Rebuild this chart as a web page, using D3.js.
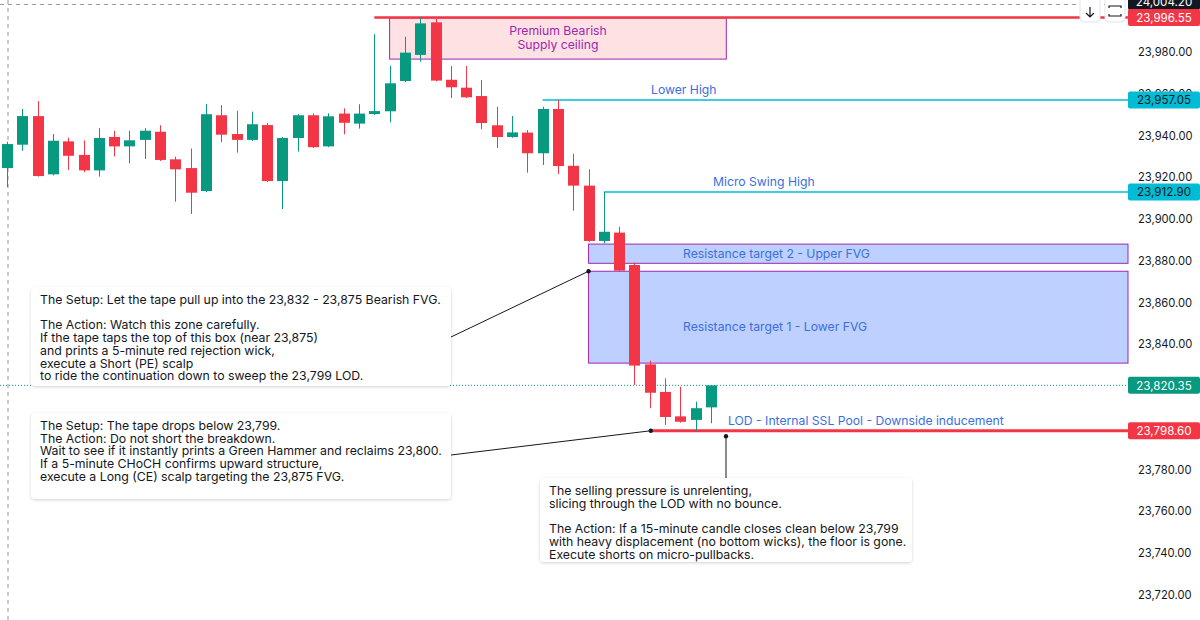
<!DOCTYPE html>
<html><head><meta charset="utf-8">
<script src="https://cdn.jsdelivr.net/npm/d3@7"></script>
<style>
html,body{margin:0;padding:0;background:#fff;}
svg{display:block;font-family:Inter,"Noto Sans",sans-serif;}
</style></head>
<body><svg id="c" width="1200" height="620"></svg>
<script>
// ---------- data ----------
const opens  = [23924.4,23935.6,23949.3,23921.4,23937.2,23930.7,23923.3,23939.3,23934.8,23937.9,23941.8,23928.6,23924.4,23913.4,23949.7,23940.7,23937.9,23945.0,23918.2,23938.8,23949.7,23934.8,23950.5,23945.7,23950.3,23951.6,23966.1,23978.6,23994.2,23966.7,23962.9,23958.9,23944.9,23939.3,23941.4,23931.5,23952.7,23925.5,23916.0,23889.5,23893.5,23878.0,23830.4,23817.2,23805.5,23803.8,23809.8];
const highs  = [23937.0,23952.7,23956.5,23940.7,23939.0,23937.7,23943.5,23942.2,23942.3,23943.5,23944.9,23929.9,23933.8,23955.0,23954.5,23951.9,23951.4,23946.0,23939.2,23950.2,23950.6,23950.6,23953.0,23955.0,23988.5,23973.4,23987.3,23996.55,23995.8,23973.3,23973.3,23966.6,23953.8,23949.3,23942.6,23953.8,23957.05,23931.2,23923.8,23912.9,23896.3,23879.1,23832.2,23823.7,23819.7,23812.5,23820.35];
const lows   = [23915.3,23932.7,23920.3,23920.9,23923.5,23922.4,23920.3,23930.0,23926.7,23928.8,23927.8,23908.3,23902.4,23912.9,23936.8,23931.8,23937.4,23917.8,23904.8,23932.3,23934.0,23934.4,23940.6,23943.3,23949.8,23946.3,23965.6,23975.4,23965.9,23958.0,23957.9,23943.0,23934.0,23938.9,23922.2,23925.9,23921.6,23904.0,23889.1,23888.4,23874.9,23820.5,23809.4,23801.4,23802.5,23798.6,23802.2];
const closes = [23935.9,23949.3,23920.6,23937.5,23930.3,23923.3,23938.8,23934.8,23937.7,23942.3,23928.3,23923.8,23912.6,23950.2,23940.4,23937.9,23945.4,23918.2,23938.8,23949.7,23934.4,23949.2,23946.1,23950.5,23951.7,23965.0,23979.7,23993.7,23966.3,23963.1,23958.3,23946.0,23939.3,23941.5,23931.5,23952.7,23925.4,23916.0,23889.5,23893.9,23875.3,23829.8,23816.8,23805.2,23802.9,23809.4,23820.35];

// visible tick labels (23,800 and 23,820 sit behind the price badges)
const tickValues = [23720,23740,23760,23780,23840,23860,23880,23900,23920,23940,23960,23980];

// horizontal levels
const levelPrices = [23996.55, 23957.05, 23912.90, 23798.60];
const levelStarts = [24, 35, 39, 42];
const levelLabels = ["", "Lower High", "Micro Swing High", "LOD - Internal SSL Pool - Downside inducement"];
const lastPrice = 23820.35;
const crossPrice = 24004.20;

// zones
const zoneTops    = [23996.3, 23888.0, 23875.0];
const zoneBottoms = [23976.6, 23878.8, 23831.0];
const zoneStarts  = [25, 38, 38];
const zoneEnds    = [47, null, null];
const zoneLabels  = [["Premium Bearish","Supply ceiling"], ["Resistance target 2 - Upper FVG"], ["Resistance target 1 - Lower FVG"]];

const note1 = ["The Setup: Let the tape pull up into the 23,832 - 23,875 Bearish FVG.","","The Action: Watch this zone carefully.","If the tape taps the top of this box (near 23,875)","and prints a 5-minute red rejection wick,","execute a Short (PE) scalp","to ride the continuation down to sweep the 23,799 LOD."];
const note2 = ["The Setup: The tape drops below 23,799.","The Action: Do not short the breakdown.","Wait to see if it instantly prints a Green Hammer and reclaims 23,800.","If a 5-minute CHoCH confirms upward structure,","execute a Long (CE) scalp targeting the 23,875 FVG."];
const note3 = ["The selling pressure is unrelenting,","slicing through the LOD with no bounce.","","The Action: If a 15-minute candle closes clean below 23,799","with heavy displacement (no bottom wicks), the floor is gone.","Execute shorts on micro-pullbacks."];

// ---------- setup ----------
const W = 1200, H = 620, plotR = 1128;
const GREEN = "#089981", RED = "#f23645", CYAN = "#00bcd4", PURPLE = "#9c27b0", BLUE = "#3a6fe0";
const svg = d3.select("#c");
const x = d3.scaleLinear().domain([0, opens.length - 1]).range([7, 711]);
const y = d3.scaleLinear().domain([23707.97, 24004.90]).range([H, 0]);
const candles = opens.map((o,i)=>({i, o, h:highs[i], l:lows[i], c:closes[i]}));

const defs = svg.append("defs");
const f = defs.append("filter").attr("id","sh").attr("x","-10%").attr("y","-10%").attr("width","120%").attr("height","130%");
f.append("feDropShadow").attr("dx",0).attr("dy",1).attr("stdDeviation",1.5).attr("flood-color","#000").attr("flood-opacity",0.18);

const g = svg.append("g");

// crosshair
g.append("line").attr("x1",x(0)+1).attr("x2",x(0)+1).attr("y1",0).attr("y2",H)
  .attr("stroke","#9598a1").attr("stroke-dasharray","4,4").attr("stroke-width",1);
g.append("line").attr("x1",0).attr("x2",plotR).attr("y1",y(crossPrice)+3).attr("y2",y(crossPrice)+3)
  .attr("stroke","#9598a1").attr("stroke-dasharray","4,4").attr("stroke-width",1);

// zones
const zones = zoneTops.map((t,k)=>({t, b:zoneBottoms[k], s:zoneStarts[k], e:zoneEnds[k], lab:zoneLabels[k], k}));
zones.forEach(z=>{
  const x0 = x(z.s), x1 = z.e===null ? plotR : x(z.e);
  g.append("rect").attr("x",x0).attr("y",y(z.t)).attr("width",x1-x0).attr("height",y(z.b)-y(z.t))
    .attr("fill", z.k===0 ? "rgba(242,54,69,0.15)" : "rgba(41,98,255,0.30)")
    .attr("stroke",PURPLE).attr("stroke-width",1);
});

// level lines
levelPrices.forEach((p,k)=>{
  const col = (k===0||k===3) ? RED : CYAN;
  const sw = k===3 ? 3 : (k===0 ? 2.5 : 1.5);
  g.append("line").attr("x1",x(levelStarts[k])).attr("x2",plotR).attr("y1",y(p)).attr("y2",y(p))
    .attr("stroke",col).attr("stroke-width",sw);
});

// last price dotted
g.append("line").attr("x1",0).attr("x2",plotR).attr("y1",y(lastPrice)).attr("y2",y(lastPrice))
  .attr("stroke",GREEN).attr("stroke-width",1).attr("stroke-dasharray","1,2");

// candles
const cg = g.append("g");
cg.selectAll("line.w").data(candles).join("line")
  .attr("x1",d=>Math.round(x(d.i))+0.5).attr("x2",d=>Math.round(x(d.i))+0.5)
  .attr("y1",d=>y(d.h)).attr("y2",d=>y(d.l))
  .attr("stroke",d=>d.c>=d.o?GREEN:RED).attr("stroke-width",1);
cg.selectAll("rect.b").data(candles).join("rect")
  .attr("x",d=>Math.round(x(d.i))-5).attr("width",11)
  .attr("y",d=>y(Math.max(d.o,d.c))).attr("height",d=>Math.max(1.5,Math.abs(y(d.o)-y(d.c))))
  .attr("fill",d=>d.c>=d.o?GREEN:RED);

// zone labels
const zt = svg.append("g").style("font-size","12.2px");
const pcx = (x(zones[0].s)+x(zones[0].e))/2;
zt.append("text").attr("text-anchor","middle").attr("fill",PURPLE)
  .selectAll("tspan").data(zones[0].lab).join("tspan")
  .attr("x",pcx).attr("y",(d,i)=>y(zones[0].t)+17+i*14).text(d=>d);
zt.append("text").attr("x",683).attr("y",(y(zones[1].t)+y(zones[1].b))/2+4.5).attr("fill",BLUE).text(zones[1].lab[0]);
zt.append("text").attr("x",683).attr("y",(y(zones[2].t)+y(zones[2].b))/2+13.5).attr("fill",BLUE).text(zones[2].lab[0]);

// level labels
const labX = [0, 651, 713, 728];
[1,2,3].forEach(k=>{
  zt.append("text").attr("x",labX[k]).attr("y",y(levelPrices[k])-6).attr("fill",BLUE).text(levelLabels[k]);
});

// callouts
function callout(x0,y0,w,h,lines,lx,ly,ax,ay){
  svg.append("line").attr("x1",lx).attr("y1",ly).attr("x2",ax).attr("y2",ay).attr("stroke","#131722").attr("stroke-width",1);
  svg.append("circle").attr("cx",ax).attr("cy",ay).attr("r",2.2).attr("fill","#131722");
  svg.append("rect").attr("x",x0).attr("y",y0).attr("width",w).attr("height",h).attr("rx",4)
    .attr("fill","#fff").attr("filter","url(#sh)");
  const t = svg.append("text").style("font-size","12.3px").attr("fill","#131722");
  t.selectAll("tspan").data(lines).join("tspan").attr("x",x0+9).attr("y",(d,i)=>y0+17+i*12.7).text(d=>d);
}
callout(31,287,420,99,note1,451,337,x(38),y(23875));
callout(31,413,420,86,note2,451,455,x(42)+1,y(23798.6));
callout(540,478,372,84,note3,726,478,726,y(23796));

// right axis
const ax = svg.append("g").attr("transform",`translate(${plotR},0)`)
  .call(d3.axisRight(y).tickValues(tickValues).tickSize(0).tickPadding(10).tickFormat(d3.format(",.2f")));
ax.select(".domain").remove();
ax.selectAll("text").style("font-size","11.2px").style("font-family","Inter,sans-serif").attr("fill","#131722");

// price badges
function badge(p,bg,fg){
  const yy = y(p);
  svg.append("rect").attr("x",plotR).attr("y",yy-8.5).attr("width",72).attr("height",17).attr("rx",2).attr("fill",bg);
  svg.append("text").attr("x",plotR+36).attr("y",yy+4.3).attr("text-anchor","middle")
    .style("font-size","11.6px").attr("fill",fg).text(d3.format(",.2f")(p));
}
badge(crossPrice,"#131722","#fff");
badge(levelPrices[0],RED,"#fff");
badge(levelPrices[1],CYAN,"#131722");
badge(levelPrices[2],CYAN,"#131722");
badge(lastPrice,GREEN,"#fff");
badge(levelPrices[3],RED,"#fff");

// top-right buttons
[[1080,"down"],[1105,"fit"]].forEach(([bx,kind])=>{
  svg.append("rect").attr("x",bx).attr("y",-4).attr("width",20).attr("height",26).attr("rx",4)
    .attr("fill","#fff").attr("stroke","#e0e3eb");
  if(kind==="down"){
    svg.append("path").attr("d",`M${bx+10},7 V17 M${bx+6},13 L${bx+10},17 L${bx+14},13`)
      .attr("stroke","#131722").attr("fill","none").attr("stroke-width",1.2);
  } else {
    svg.append("path").attr("d",`M${bx+4},8 V6 H${bx+16} V8 M${bx+4},14 V16 H${bx+16} V14`)
      .attr("stroke","#131722").attr("fill","none").attr("stroke-width",1.2);
  }
});
</script></body></html>
